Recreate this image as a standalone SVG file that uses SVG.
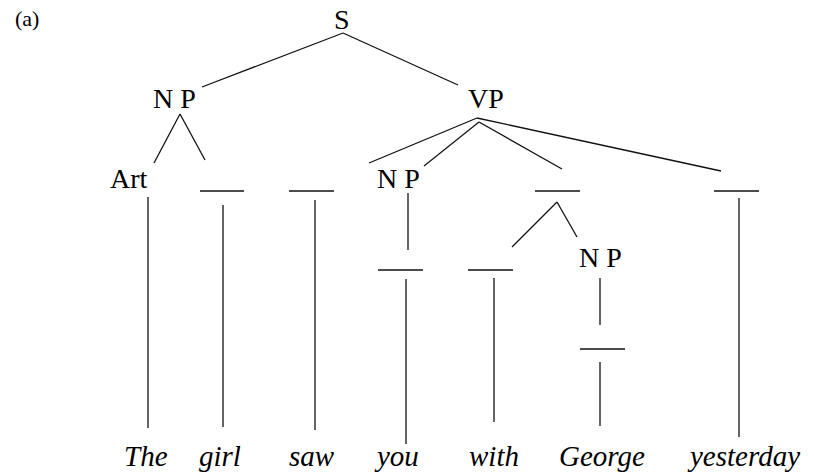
<svg xmlns="http://www.w3.org/2000/svg" width="814" height="475" viewBox="0 0 814 475">
<style>
.c line{stroke:#111;stroke-width:1.3;fill:none}
.blank{stroke:#111;stroke-width:1.6}
</style>
<rect width="814" height="475" fill="#fff"/>
<text x="15" y="26" font-family="Liberation Serif" font-size="22" style="font-family:'Liberation Serif',serif;font-size:22px">(a)</text>
<g id="S"><text x="334" y="29" font-family="Liberation Serif" font-size="28" style="font-family:'Liberation Serif',serif;font-size:28px">S</text></g>
<g id="NP1"><text x="153" y="108" font-family="Liberation Serif" font-size="28" letter-spacing="7" style="font-family:'Liberation Serif',serif;font-size:28px;letter-spacing:7px">NP</text></g>
<g id="VP"><text x="468" y="108" font-family="Liberation Serif" font-size="28" style="font-family:'Liberation Serif',serif;font-size:28px">VP</text></g>
<g id="Art"><text x="110" y="188" font-family="Liberation Serif" font-size="28" style="font-family:'Liberation Serif',serif;font-size:28px">Art</text></g>
<g id="N1"><line class="blank" x1="200" y1="191" x2="244" y2="191"/></g>
<g id="V"><line class="blank" x1="289" y1="191" x2="334" y2="191"/></g>
<g id="NP2"><text x="377" y="188" font-family="Liberation Serif" font-size="28" letter-spacing="7" style="font-family:'Liberation Serif',serif;font-size:28px;letter-spacing:7px">NP</text></g>
<g id="PP"><line class="blank" x1="535" y1="191" x2="580" y2="191"/></g>
<g id="Adv"><line class="blank" x1="714" y1="191" x2="759" y2="191"/></g>
<g id="N2"><line class="blank" x1="378" y1="270" x2="423" y2="270"/></g>
<g id="P"><line class="blank" x1="468" y1="270" x2="513" y2="270"/></g>
<g id="NP3"><text x="579" y="267" font-family="Liberation Serif" font-size="28" letter-spacing="7" style="font-family:'Liberation Serif',serif;font-size:28px;letter-spacing:7px">NP</text></g>
<g id="N3"><line class="blank" x1="580" y1="349" x2="625" y2="349"/></g>
<g id="words" font-family="Liberation Serif" font-size="29" font-style="italic">
<text x="124" y="466" style="font-family:'Liberation Serif',serif;font-size:29px;font-style:italic">The</text>
<text x="199" y="466" style="font-family:'Liberation Serif',serif;font-size:29px;font-style:italic">girl</text>
<text x="289" y="466" style="font-family:'Liberation Serif',serif;font-size:29px;font-style:italic">saw</text>
<text x="377" y="466" style="font-family:'Liberation Serif',serif;font-size:29px;font-style:italic">you</text>
<text x="469" y="466" style="font-family:'Liberation Serif',serif;font-size:29px;font-style:italic">with</text>
<text x="559" y="466" style="font-family:'Liberation Serif',serif;font-size:29px;font-style:italic">George</text>
<text x="690" y="466" style="font-family:'Liberation Serif',serif;font-size:29px;font-style:italic">yesterday</text>
</g>
<g id="connectors" class="c">
<line x1="343" y1="33" x2="202" y2="87"/>
<line x1="343" y1="33" x2="458" y2="85"/>
<line x1="180" y1="114" x2="154" y2="163"/>
<line x1="180" y1="114" x2="205" y2="160"/>
<line x1="477" y1="118" x2="369" y2="163"/>
<line x1="479" y1="122" x2="424" y2="166"/>
<line x1="479" y1="122" x2="562" y2="169"/>
<line x1="477" y1="118" x2="721" y2="171"/>
<line x1="557" y1="202" x2="512" y2="247"/>
<line x1="557" y1="202" x2="577" y2="237"/>
<line x1="148" y1="197" x2="148" y2="428"/>
<line x1="223" y1="205" x2="223" y2="427"/>
<line x1="315" y1="200" x2="315" y2="430"/>
<line x1="408" y1="193" x2="408" y2="250"/>
<line x1="406" y1="279" x2="406" y2="444"/>
<line x1="494" y1="278" x2="494" y2="422"/>
<line x1="600" y1="278" x2="600" y2="325"/>
<line x1="600" y1="362" x2="600" y2="426"/>
<line x1="739" y1="198" x2="739" y2="437"/>
</g>
</svg>
